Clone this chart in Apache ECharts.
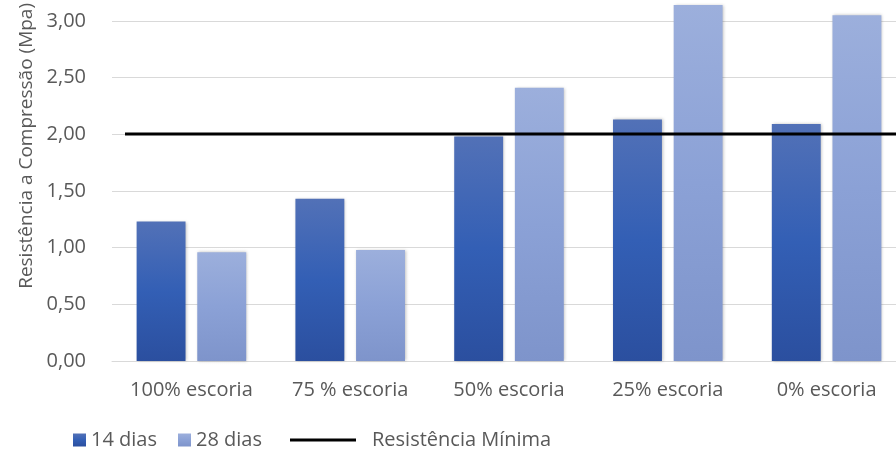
<!DOCTYPE html>
<html>
<head>
<meta charset="utf-8">
<script src="https://cdn.jsdelivr.net/npm/echarts@6/dist/echarts.min.js"></script>
<style>
  html, body { margin: 0; padding: 0; background: #ffffff; overflow: hidden; }
  #chart { width: 906px; height: 452px; }
</style>
</head>
<body>
<div id="chart"></div>
<script>
// Compressive strength by slag content; the plot runs a little past the right edge
const categories = ['100% escoria', '75 % escoria', '50% escoria', '25% escoria', '0% escoria'];
const dias14 = [1.23, 1.43, 1.98, 2.13, 2.09];
const dias28 = [0.96, 0.98, 2.41, 3.14, 3.05];
const resistenciaMinima = [2.00, 2.00, 2.00, 2.00, 2.00];

const FONT = 'Open Sans';
const GREY = '#595959';

const grad = (c0, c1, c2) => new echarts.graphic.LinearGradient(0, 0, 0, 1, [
  { offset: 0, color: c0 }, { offset: 0.5, color: c1 }, { offset: 1, color: c2 }
]);
const color14 = grad('#5271b7', '#335fb5', '#2b4f9f');
const color28 = grad('#9cafdc', '#8ba1d6', '#7e94cb');
const barShadow = { shadowBlur: 3, shadowColor: 'rgba(0,0,0,0.25)', shadowOffsetX: 1, shadowOffsetY: 0 };

const chart = echarts.init(document.getElementById('chart'));
chart.setOption({
  backgroundColor: '#ffffff',
  animation: false,
  textStyle: { fontFamily: FONT },
  grid: [
    { left: 112, right: 0, top: 20.5, bottom: 91 },
    { left: 125, right: 0, top: 20.5, bottom: 91 }
  ],
  xAxis: [
    {
      type: 'category', gridIndex: 0, data: categories,
      axisLine: { lineStyle: { color: '#d9d9d9', width: 1 } },
      axisTick: { show: false },
      axisLabel: { color: GREY, fontSize: 20, fontFamily: FONT, margin: 19, interval: 0 }
    },
    {
      type: 'category', gridIndex: 1, data: categories, boundaryGap: false, show: false
    }
  ],
  yAxis: [
    {
      type: 'value', gridIndex: 0, min: 0, max: 3, interval: 0.5,
      name: 'Resistência a Compressão (Mpa)',
      nameLocation: 'middle', nameGap: 76,
      nameTextStyle: { color: GREY, fontSize: 19, fontFamily: FONT, padding: [0, 0, 0, 90] },
      axisLine: { show: false }, axisTick: { show: false },
      splitLine: { lineStyle: { color: '#d9d9d9', width: 1 } },
      axisLabel: {
        color: GREY, fontSize: 20, fontFamily: FONT, margin: 26,
        formatter: v => v.toFixed(2).replace('.', ',')
      }
    },
    { type: 'value', gridIndex: 1, min: 0, max: 3, show: false }
  ],
  legend: [
    {
      data: ['14 dias', '28 dias'],
      left: 73, top: 430, padding: 0, itemWidth: 13, itemHeight: 13, itemGap: 21, icon: 'rect',
      textStyle: { color: GREY, fontSize: 20, fontFamily: FONT }
    },
    {
      data: ['Resistência Mínima'],
      left: 290, top: 430, padding: 0, itemWidth: 66, itemHeight: 3, icon: 'rect',
      itemStyle: { color: '#000000' },
      textStyle: { color: GREY, fontSize: 20, fontFamily: FONT, padding: [0, 0, 0, 11] }
    }
  ],
  series: [
    {
      name: '14 dias', type: 'bar', data: dias14, clip: false,
      barCategoryGap: '31%', barGap: '24%',
      itemStyle: Object.assign({ color: color14 }, barShadow)
    },
    {
      name: '28 dias', type: 'bar', data: dias28, clip: false,
      barCategoryGap: '31%', barGap: '24%',
      itemStyle: Object.assign({ color: color28 }, barShadow)
    },
    {
      name: 'Resistência Mínima', type: 'line', xAxisIndex: 1, yAxisIndex: 1,
      data: resistenciaMinima, symbol: 'none', z: 5, clip: false,
      lineStyle: { color: '#000000', width: 3 },
      itemStyle: { color: '#000000' }
    }
  ]
});
</script>
</body>
</html>
